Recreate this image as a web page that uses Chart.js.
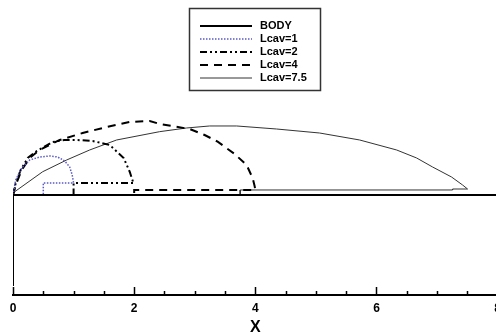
<!DOCTYPE html>
<html>
<head>
<meta charset="utf-8">
<script src="https://cdn.jsdelivr.net/npm/chart.js@4/dist/chart.umd.min.js"></script>
<style>
  html, body { margin: 0; padding: 0; background: #fff; overflow: hidden; }
  canvas { display: block; }
</style>
</head>
<body>
<canvas id="cavChart" width="507" height="332"></canvas>
<script>
// tick labels of the X axis
var xTicks = [0, 2, 4, 6, 8];

// body contour
var bodyX = [0, 0, 8];
var bodyY = [-1.5, 0, 0];

// Lcav=1
var cav1X = [0, 0.045, 0.144, 0.276, 0.441, 0.606, 0.738, 0.853, 0.936, 0.977, 1.0, 0.5, 0.5];
var cav1Y = [0, 0.248, 0.446, 0.578, 0.627, 0.644, 0.627, 0.561, 0.462, 0.330, 0.2, 0.2, 0];

// Lcav=2
var cav2X = [0, 0.045, 0.127, 0.243, 0.391, 0.655, 0.853, 1.051, 1.315, 1.597, 1.827, 1.926, 1.98, 2.0, 1.0, 1.0];
var cav2Y = [0, 0.198, 0.413, 0.611, 0.726, 0.875, 0.908, 0.908, 0.891, 0.825, 0.611, 0.384, 0.219, 0.2, 0.2, 0];

// Lcav=4
var cav4X = [0, 0.045, 0.144, 0.276, 0.441, 0.771, 1.15, 1.546, 1.926, 2.256, 2.421, 2.916, 3.163, 3.378, 3.658, 3.856, 3.955, 3.988, 4.0, 2.0, 2.0];
var cav4Y = [0, 0.165, 0.413, 0.611, 0.743, 0.908, 1.023, 1.122, 1.205, 1.221, 1.172, 1.089, 0.99, 0.88, 0.677, 0.495, 0.281, 0.149, 0.083, 0.083, 0];

// Lcav=7.5
var cav75X = [0, 0.028, 0.49, 0.886, 1.266, 1.711, 2.421, 2.866, 3.246, 3.691, 4.351, 5.061, 5.721, 6.332, 6.662, 6.926, 7.239, 7.421, 7.503, 7.256, 7.256, 3.75, 3.75];
var cav75Y = [0, 0.054, 0.384, 0.578, 0.743, 0.908, 1.045, 1.106, 1.139, 1.139, 1.089, 1.023, 0.908, 0.743, 0.611, 0.462, 0.297, 0.165, 0.099, 0.099, 0.083, 0.083, 0];

var fontFam = "'Liberation Sans', Arial, sans-serif";

// unisce due array in punti {x, y}
function toPoints(xs, ys) {
  var pts = [];
  for (var i = 0; i < xs.length; i++) {
    pts.push({ x: xs[i], y: ys[i] });
  }
  return pts;
}

function makeSet(label, xs, ys, color, width, dash) {
  return {
    label: label,
    data: toPoints(xs, ys),
    showLine: true,
    borderColor: color,
    backgroundColor: color,
    borderWidth: width,
    borderDash: dash,
    pointRadius: 0,
    tension: 0,
    fill: false
  };
}

// legenda con riquadro, disegnata a mano
var boxLegend = {
  id: 'boxLegend',
  afterDraw: function(chart) {
    var ctx = chart.ctx;
    var sets = chart.data.datasets;
    ctx.save();
    ctx.strokeStyle = '#333';
    ctx.lineWidth = 1.5;
    ctx.strokeRect(189.5, 8.5, 131, 82);
    ctx.font = 'bold 11px ' + fontFam;
    ctx.textBaseline = 'middle';
    ctx.fillStyle = '#000';
    for (var i = 0; i < sets.length; i++) {
      var y = 26 + i * 13;
      ctx.beginPath();
      ctx.strokeStyle = sets[i].borderColor;
      ctx.lineWidth = sets[i].borderWidth;
      ctx.setLineDash(sets[i].borderDash);
      ctx.moveTo(200, y);
      ctx.lineTo(252, y);
      ctx.stroke();
      ctx.setLineDash([]);
      ctx.fillText(sets[i].label, 260, y);
    }
    ctx.restore();
  }
};

// tacche verso l'interno sull'asse X
var innerTicks = {
  id: 'innerTicks',
  afterDraw: function(chart) {
    var sx = chart.scales.x;
    var ctx = chart.ctx;
    var yb = chart.chartArea.bottom;
    ctx.save();
    ctx.strokeStyle = '#000';
    ctx.lineWidth = 1.5;
    for (var v = 0; v <= 8; v += 0.5) {
      var px = Math.round(sx.getPixelForValue(v)) + 0.5;
      var len = (v % 2 === 0) ? 8 : 4;
      ctx.beginPath();
      ctx.moveTo(px, yb);
      ctx.lineTo(px, yb - len);
      ctx.stroke();
    }
    ctx.restore();
  }
};

var ctx = document.getElementById('cavChart');
var myChart = new Chart(ctx, {
  type: 'scatter',
  data: {
    datasets: [
      makeSet('BODY', bodyX, bodyY, '#000', 2, []),
      makeSet('Lcav=1', cav1X, cav1Y, '#5a5ac8', 1.5, [1.5, 1.5]),
      makeSet('Lcav=2', cav2X, cav2Y, '#000', 2, [7, 3, 2, 3, 2, 3]),
      makeSet('Lcav=4', cav4X, cav4Y, '#000', 2, [8, 6]),
      makeSet('Lcav=7.5', cav75X, cav75Y, '#333', 1, [])
    ]
  },
  options: {
    responsive: false,
    animation: false,
    layout: { padding: { left: 13, right: 4, top: 5, bottom: -5 } },
    plugins: {
      legend: { display: false },
      tooltip: { enabled: false }
    },
    scales: {
      x: {
        type: 'linear',
        min: 0,
        max: 8,
        border: { display: true, color: '#000', width: 2 },
        grid: { display: false, drawTicks: false },
        afterBuildTicks: function(scale) {
          scale.ticks = xTicks.map(function(v) { return { value: v }; });
        },
        ticks: {
          color: '#000',
          padding: 6,
          maxRotation: 0,
          font: { family: fontFam, size: 12, weight: 'bold' }
        },
        title: {
          display: true,
          text: 'X',
          color: '#000',
          padding: { top: -3.6, bottom: 0 },
          font: { family: fontFam, size: 16, weight: 'bold' }
        }
      },
      y: {
        display: false,
        min: -1.65,
        max: 3.135
      }
    }
  },
  plugins: [boxLegend, innerTicks]
});
</script>
</body>
</html>
